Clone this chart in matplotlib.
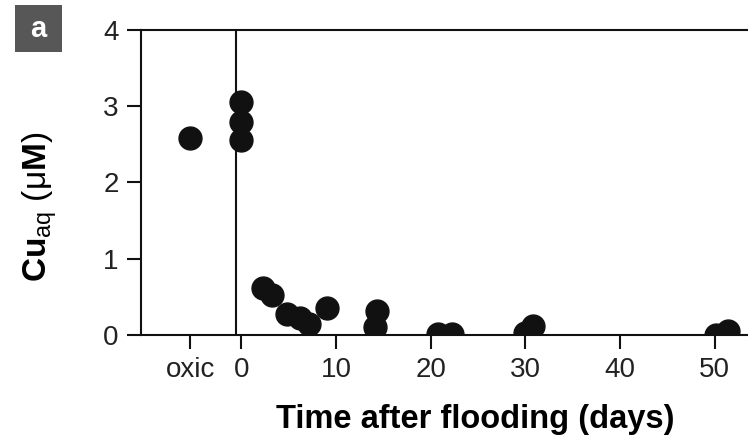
import matplotlib
matplotlib.use("Agg")
import matplotlib.pyplot as plt
from matplotlib.patches import Rectangle

plt.rcParams["font.family"] = ["Liberation Sans", "DejaVu Sans"]
plt.rcParams["mathtext.fontset"] = "custom"
plt.rcParams["mathtext.rm"] = "Liberation Sans"
plt.rcParams["mathtext.it"] = "Liberation Sans:italic"
plt.rcParams["mathtext.bf"] = "Liberation Sans:bold"

# oxic sample is drawn at its own x slot left of day 0
OXIC_X = -5.4
oxic_val = [2.58]

days = [0, 0, 0, 2.3, 3.2, 4.8, 6.2, 7.1, 9.0, 14.3, 14.1,
        20.8, 22.2, 30.8, 29.9, 51.4, 50.1]
cu = [3.06, 2.79, 2.56, 0.62, 0.52, 0.28, 0.22, 0.15, 0.35, 0.31, 0.11,
      0.01, 0.01, 0.12, 0.02, 0.05, 0.0]

xticks = [OXIC_X, 0, 10, 20, 30, 40, 50]
xticklabels = ["oxic", "0", "10", "20", "30", "40", "50"]
yticks = [0, 1, 2, 3, 4]

fig = plt.figure(figsize=(7.48, 4.38), dpi=100)
ax = fig.add_axes([0.1885, 0.2352, 0.8115, 0.6963])
ax.set_xlim(-10.6, 53.5)
ax.set_ylim(0, 4)

ax.plot([OXIC_X] * len(oxic_val), oxic_val, "o", color="#111111", ms=16.5, zorder=3)
ax.plot(days, cu, "o", color="#111111", ms=16.5, zorder=3)
ax.axvline(-0.6, color="#111111", lw=1.5, zorder=2)

for s in ("left", "bottom", "top"):
    ax.spines[s].set_linewidth(1.5)
    ax.spines[s].set_color("#111111")
ax.spines["right"].set_visible(False)

ax.set_xticks(xticks)
ax.set_xticklabels(xticklabels)
ax.set_yticks(yticks)
ax.tick_params(axis="both", direction="out", length=10, width=1.5,
               labelsize=20, colors="#111111", labelcolor="#222222")
ax.tick_params(axis="x", pad=6)
ax.tick_params(axis="y", pad=6)

ax.set_xlabel("Time after flooding (days)", fontsize=23.5, fontweight="bold")
ax.xaxis.set_label_coords(0.55, -0.225)
ax.set_ylabel(r"$\mathbf{Cu}_{\mathrm{aq}}\ (\mathrm{μ}\mathbf{M})$", fontsize=24)
ax.yaxis.set_label_coords(-0.166, 0.42)
ax.yaxis.label.set_verticalalignment("center")

fig.patches.append(Rectangle((15 / 748, 1 - 52 / 438), 47 / 748, 47 / 438,
                             transform=fig.transFigure, facecolor="#575757",
                             edgecolor="none"))
fig.text(38.5 / 748, 1 - 29 / 438, "a", fontsize=21, color="white", fontweight="bold",
         ha="center", va="center")

fig.savefig("out.png", dpi=100)
